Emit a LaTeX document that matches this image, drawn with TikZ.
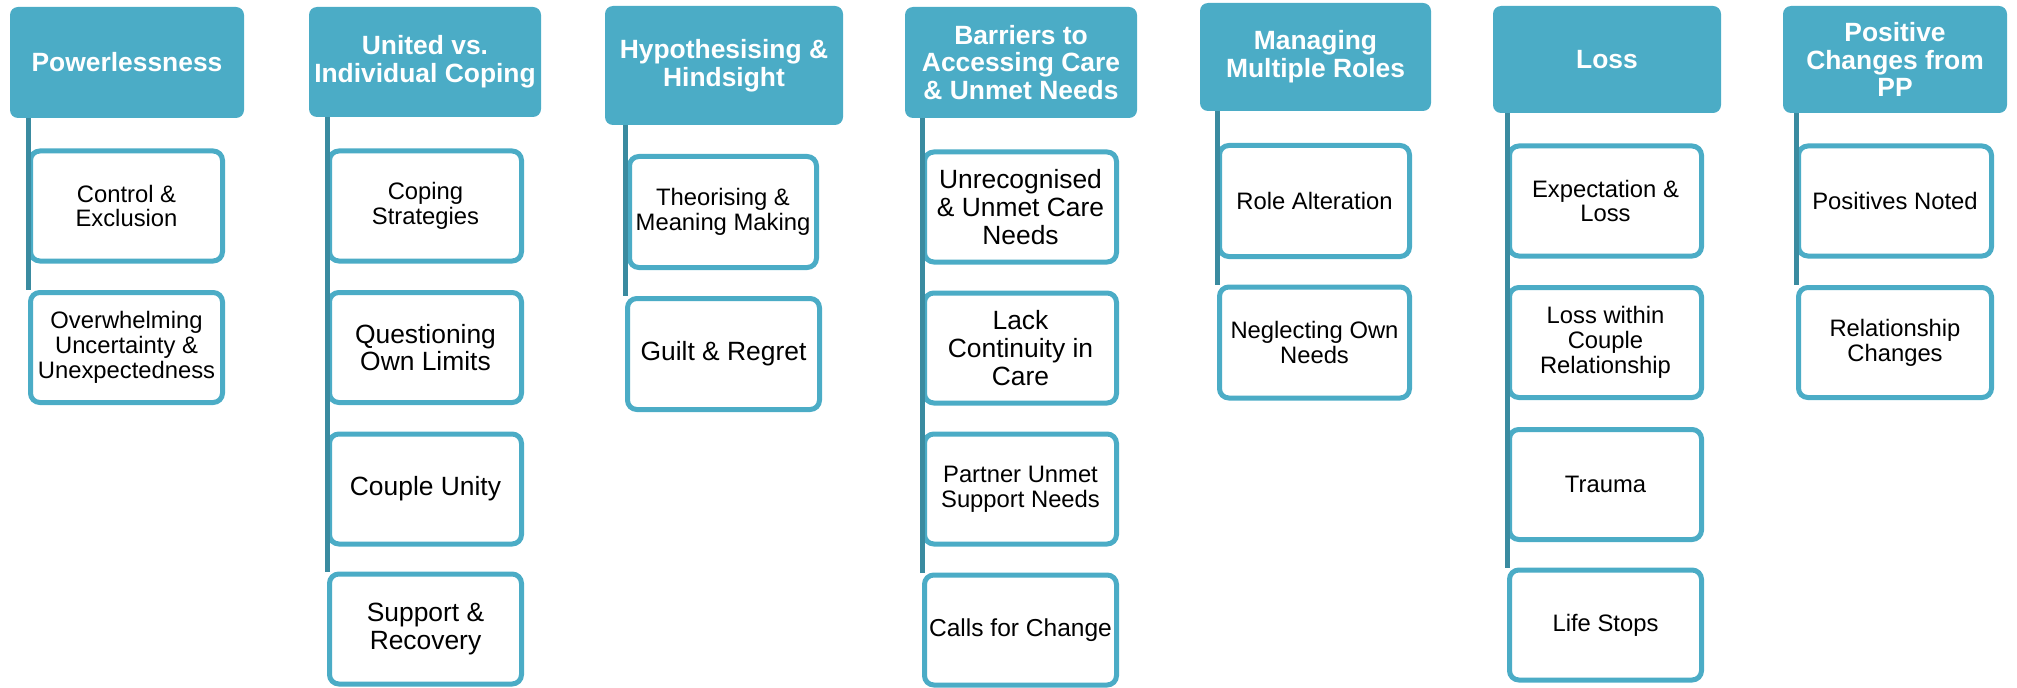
\documentclass[tikz,border=0pt]{standalone}
\usepackage{fontspec}
\setmainfont{Liberation Sans}
\definecolor{headfill}{HTML}{4BACC6}
\definecolor{itemline}{HTML}{4BACC6}
\definecolor{stemcol}{HTML}{3A8BA0}
\newcommand\themehead{\fontsize{19.8pt}{20.8pt}\selectfont\bfseries}
\newcommand\themeitem{\fontsize{17.85pt}{18.7pt}\selectfont}
\newcommand\themeitembig{\fontsize{19.8pt}{20.7pt}\selectfont}
\newcommand\themeitemmid{\fontsize{18.4pt}{19.2pt}\selectfont}
\begin{document}
\begin{tikzpicture}[x=0.75pt,y=-0.75pt,
  theme/.style={fill=headfill, draw=none, rounded corners=6pt, text=white,
    font=\themehead, align=center, inner sep=0pt},
  sub/.style={fill=white, draw=itemline, line width=3.75pt, rounded corners=7pt,
    text=black, font=\themeitem, align=center, inner sep=0pt,
    minimum height=82.5pt},
  big/.style={font=\themeitembig},
  mid/.style={font=\themeitemmid},
  stemline/.style={draw=stemcol, line width=3.75pt}
]
\useasboundingbox (0,0) rectangle (2017,688);

% theme headers
\node[theme, minimum width=175.5pt, minimum height=83.25pt] (h1) at (127,62.5) {Powerlessness};
\node[theme, minimum width=174pt, minimum height=82.5pt] (h2) at (425,62) {United vs.\\Individual Coping};
\node[theme, minimum width=178.5pt, minimum height=89.25pt] (h3) at (724,65.5) {Hypothesising \&\\Hindsight};
\node[theme, minimum width=174pt, minimum height=83.25pt] (h4) at (1021,62.5) {Barriers to\\Accessing Care\\\& Unmet Needs};
\node[theme, minimum width=173.25pt, minimum height=81pt] (h5) at (1315.5,57) {Managing\\Multiple Roles};
\node[theme, minimum width=171pt, minimum height=80.25pt] (h6) at (1607,59.5) {Loss};
\node[theme, minimum width=168pt, minimum height=80.25pt] (h7) at (1895,59.5) {Positive\\Changes from\\PP};

% column 1
\node[sub, minimum width=144pt] (c11) at (126.5,206) {Control \&\\Exclusion};
\node[sub, minimum width=144pt] (c12) at (126.5,347.5) {Overwhelming\\Uncertainty \&\\Unexpectedness};
% column 2
\node[sub, minimum width=144pt] (c21) at (425.5,206) {Coping\\Strategies};
\node[sub, big, minimum width=144pt] (c22) at (425.5,347.5) {Questioning\\Own Limits};
\node[sub, big, minimum width=144pt] (c23) at (425.5,489) {Couple Unity};
\node[sub, big, minimum width=144pt] (c24) at (425.5,629) {Support \&\\Recovery};
% column 3
\node[sub, minimum width=140.25pt, minimum height=83.25pt] (c31) at (723,212) {Theorising \&\\Meaning Making};
\node[sub, big, minimum width=144pt, minimum height=83.25pt] (c32) at (723.5,354) {Guilt \& Regret};
% column 4
\node[sub, big, minimum width=144pt] (c41) at (1020.5,207) {Unrecognised\\\& Unmet Care\\Needs};
\node[sub, big, minimum width=144pt] (c42) at (1020.5,348) {Lack\\Continuity in\\Care};
\node[sub, minimum width=144pt] (c43) at (1020.5,489) {Partner Unmet\\Support Needs};
\node[sub, mid, minimum width=144pt] (c44) at (1020.5,630) {Calls for Change};
% column 5
\node[sub, minimum width=142.5pt, minimum height=83.25pt] (c51) at (1314.5,201) {Role Alteration};
\node[sub, minimum width=142.5pt, minimum height=83.25pt] (c52) at (1314.5,342.5) {Neglecting Own\\Needs};
% column 6
\node[sub, minimum width=144pt] (c61) at (1605.5,201) {Expectation \&\\Loss};
\node[sub, minimum width=144pt] (c62) at (1605.5,342.5) {Loss within\\Couple\\Relationship};
\node[sub, minimum width=144pt] (c63) at (1605.5,484.5) {Trauma};
\node[sub, minimum width=144pt] (c64) at (1605.5,625) {Life Stops};
% column 7
\node[sub, minimum width=144.75pt] (c71) at (1895,201) {Positives Noted};
\node[sub, minimum width=144.75pt] (c72) at (1895,342.5) {Relationship\\Changes};

% stems: from each header down the left edges of its column to the last box
\draw[stemline] (h1.south -| c12.west) -- (c12.north west);
\draw[stemline] (h2.south -| c24.west) -- (c24.north west);
\draw[stemline] (h3.south -| c32.west) -- (c32.north west);
\draw[stemline] (h4.south -| c44.west) -- (c44.north west);
\draw[stemline] (h5.south -| c52.west) -- (c52.north west);
\draw[stemline] (h6.south -| c64.west) -- (c64.north west);
\draw[stemline] (h7.south -| c72.west) -- (c72.north west);
\end{tikzpicture}
\end{document}
